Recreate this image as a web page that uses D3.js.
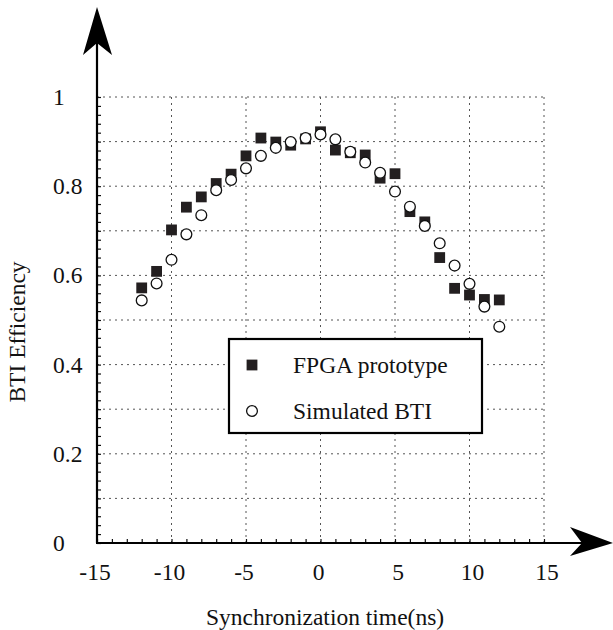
<!DOCTYPE html>
<meta charset="utf-8">
<script src="https://d3js.org/d3.v7.min.js"></script>
<style>
  body { margin: 0; background: #fff; }
  text { font-family: "Liberation Serif", "Times New Roman", serif; fill: #111; }
</style>
<div id="chart"></div>
<script>
// data
var times = [-12, -11, -10, -9, -8, -7, -6, -5, -4, -3, -2, -1, 0, 1, 2, 3, 4, 5, 6, 7, 8, 9, 10, 11, 12];
var fpga = [0.572, 0.609, 0.702, 0.753, 0.776, 0.806, 0.827, 0.868, 0.908, 0.899, 0.892, 0.906, 0.922,
            0.881, 0.875, 0.870, 0.818, 0.828, 0.743, 0.720, 0.640, 0.571, 0.556, 0.546, 0.545];
var simulated = [0.544, 0.582, 0.635, 0.692, 0.735, 0.791, 0.814, 0.840, 0.868, 0.886, 0.899, 0.908, 0.916,
                 0.905, 0.877, 0.853, 0.830, 0.788, 0.754, 0.711, 0.672, 0.622, 0.581, 0.530, 0.485];
var xTicks = [-15, -10, -5, 0, 5, 10, 15];
var yTicks = [0, 0.2, 0.4, 0.6, 0.8, 1];
var seriesNames = ["FPGA prototype", "Simulated BTI"];

var W = 613, H = 630;
var fs = 23.5;

var svg = d3.select("#chart").append("svg")
  .attr("width", W)
  .attr("height", H);

var x = d3.scaleLinear().domain([-15, 15]).range([97, 544]);
var y = d3.scaleLinear().domain([0, 1]).range([543, 97]);

// dotted grid
var grid = svg.append("g")
  .attr("stroke", "#555")
  .attr("stroke-width", 1)
  .attr("stroke-dasharray", "2,4");
grid.selectAll(".hg")
  .data(d3.range(1, 11).map(d => d / 10))
  .enter().append("line")
    .attr("x1", x(-15)).attr("x2", x(15))
    .attr("y1", d => y(d)).attr("y2", d => y(d));
grid.selectAll(".vg")
  .data(xTicks.slice(1))
  .enter().append("line")
    .attr("x1", d => x(d)).attr("x2", d => x(d))
    .attr("y1", y(0)).attr("y2", y(1));

// minor ticks pointing inward
svg.append("g")
  .attr("transform", "translate(" + x(-15) + ",0)")
  .call(d3.axisRight(y).tickValues(d3.range(0, 51).map(d => d / 50)).tickSize(4).tickFormat(""))
  .call(g => g.select(".domain").remove())
  .selectAll("line").attr("stroke", "#111").attr("stroke-width", 1.2);
svg.append("g")
  .attr("transform", "translate(0," + y(0) + ")")
  .call(d3.axisTop(x).tickValues(d3.range(-15, 16)).tickSize(4).tickFormat(""))
  .call(g => g.select(".domain").remove())
  .selectAll("line").attr("stroke", "#111").attr("stroke-width", 1.2);

// axes with arrow heads
var x0 = x(-15), y0 = y(0);
svg.append("line")
  .attr("x1", x0).attr("y1", y0).attr("x2", x0).attr("y2", 30)
  .attr("stroke", "#000").attr("stroke-width", 2.2);
svg.append("line")
  .attr("x1", x0 - 1).attr("y1", y0).attr("x2", 590).attr("y2", y0)
  .attr("stroke", "#000").attr("stroke-width", 2.2);
svg.append("path")
  .attr("d", "M" + x0 + ",7 L" + (x0 + 15) + ",55 L" + x0 + ",43 L" + (x0 - 14) + ",55 Z")
  .attr("fill", "#000");
svg.append("path")
  .attr("d", "M613," + y0 + " L570," + (y0 - 16) + " L582," + y0 + " L570," + (y0 + 13) + " Z")
  .attr("fill", "#000");

// tick labels
svg.append("g").selectAll("text")
  .data(xTicks)
  .enter().append("text")
    .attr("x", d => x(d) + (d > 0 ? 3 : -2))
    .attr("y", 580)
    .attr("text-anchor", "middle")
    .attr("font-size", fs)
    .text(d => d);
svg.append("g").selectAll("text")
  .data(yTicks)
  .enter().append("text")
    .attr("x", 53)
    .attr("y", d => y(d) + 8)
    .attr("font-size", fs)
    .text(d => d);

// axis titles
svg.append("text")
  .attr("x", 325)
  .attr("y", 625)
  .attr("text-anchor", "middle")
  .attr("font-size", fs)
  .text("Synchronization time(ns)");
svg.append("text")
  .attr("transform", "translate(25,332) rotate(-90)")
  .attr("text-anchor", "middle")
  .attr("font-size", fs)
  .text("BTI Efficiency");

// points
var sq = 10.8;
svg.append("g").selectAll("rect")
  .data(times)
  .enter().append("rect")
    .attr("x", (d, i) => x(d) - sq / 2)
    .attr("y", (d, i) => y(fpga[i]) - sq / 2)
    .attr("width", sq).attr("height", sq)
    .attr("fill", "#231f20");
svg.append("g").selectAll("circle")
  .data(times)
  .enter().append("circle")
    .attr("cx", d => x(d))
    .attr("cy", (d, i) => y(simulated[i]))
    .attr("r", 5.4)
    .attr("fill", "#fff")
    .attr("stroke", "#111")
    .attr("stroke-width", 1.3);

// legend
var lg = svg.append("g");
lg.append("rect")
  .attr("x", 229).attr("y", 339)
  .attr("width", 253).attr("height", 94)
  .attr("fill", "#fff")
  .attr("stroke", "#000")
  .attr("stroke-width", 2.2);
lg.append("rect")
  .attr("x", 252 - sq / 2).attr("y", 365 - sq / 2)
  .attr("width", sq).attr("height", sq)
  .attr("fill", "#231f20");
lg.append("circle")
  .attr("cx", 252).attr("cy", 411).attr("r", 5.4)
  .attr("fill", "#fff").attr("stroke", "#111").attr("stroke-width", 1.3);
lg.selectAll("text")
  .data(seriesNames)
  .enter().append("text")
    .attr("x", 293)
    .attr("y", (d, i) => 373 + i * 46)
    .attr("font-size", fs)
    .text(d => d);
</script>
